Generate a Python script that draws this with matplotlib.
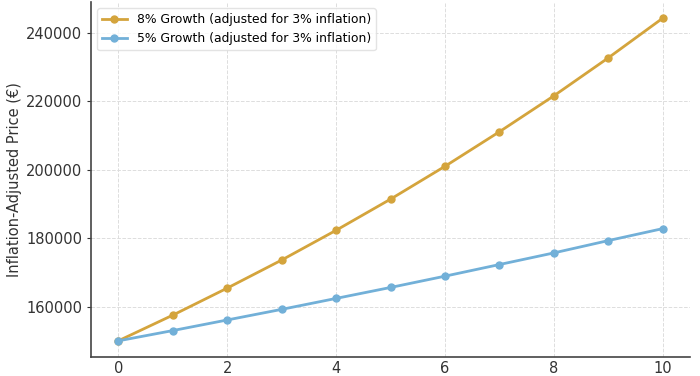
import matplotlib
matplotlib.use("Agg")
import matplotlib.pyplot as plt

# years since purchase
years = [0, 1, 2, 3, 4, 5, 6, 7, 8, 9, 10]

# inflation-adjusted price
growth_8 = [150000, 157500, 165400, 173600, 182300, 191400, 201000, 211100, 221600, 232700, 244300]
growth_5 = [150000, 153000, 156100, 159200, 162400, 165600, 168900, 172300, 175700, 179300, 182800]

label_8 = "8% Growth (adjusted for 3% inflation)"
label_5 = "5% Growth (adjusted for 3% inflation)"

fig = plt.figure(figsize=(7, 3.76), dpi=100)
ax = fig.add_axes([91 / 700, 19 / 376, 599 / 700, 355 / 376])

ax.plot(years, growth_8, marker="o", color="#d4a43c", linewidth=2, markersize=5, label=label_8)
ax.plot(years, growth_5, marker="o", color="#72b0d8", linewidth=2, markersize=5, label=label_5)

ax.set_ylabel("Inflation-Adjusted Price (\u20ac)", fontsize=10.5, color="#333333", labelpad=3)
ax.set_xticks([0, 2, 4, 6, 8, 10])
ax.set_yticks([160000, 180000, 200000, 220000, 240000])
ax.tick_params(labelsize=10.5, colors="#333333", length=3)
ax.tick_params(axis="x", length=0, pad=3)

ax.grid(True, linestyle="--", color="#dddddd", linewidth=0.7)
ax.spines["top"].set_visible(False)
ax.spines["right"].set_visible(False)
ax.spines["left"].set_color("#444444")
ax.spines["bottom"].set_color("#444444")
ax.spines["left"].set_linewidth(1.2)
ax.spines["bottom"].set_linewidth(1.2)

ax.legend(loc="upper left", fontsize=8.9, framealpha=0.8, edgecolor="#dddddd")

fig.savefig("out.png", dpi=100)
